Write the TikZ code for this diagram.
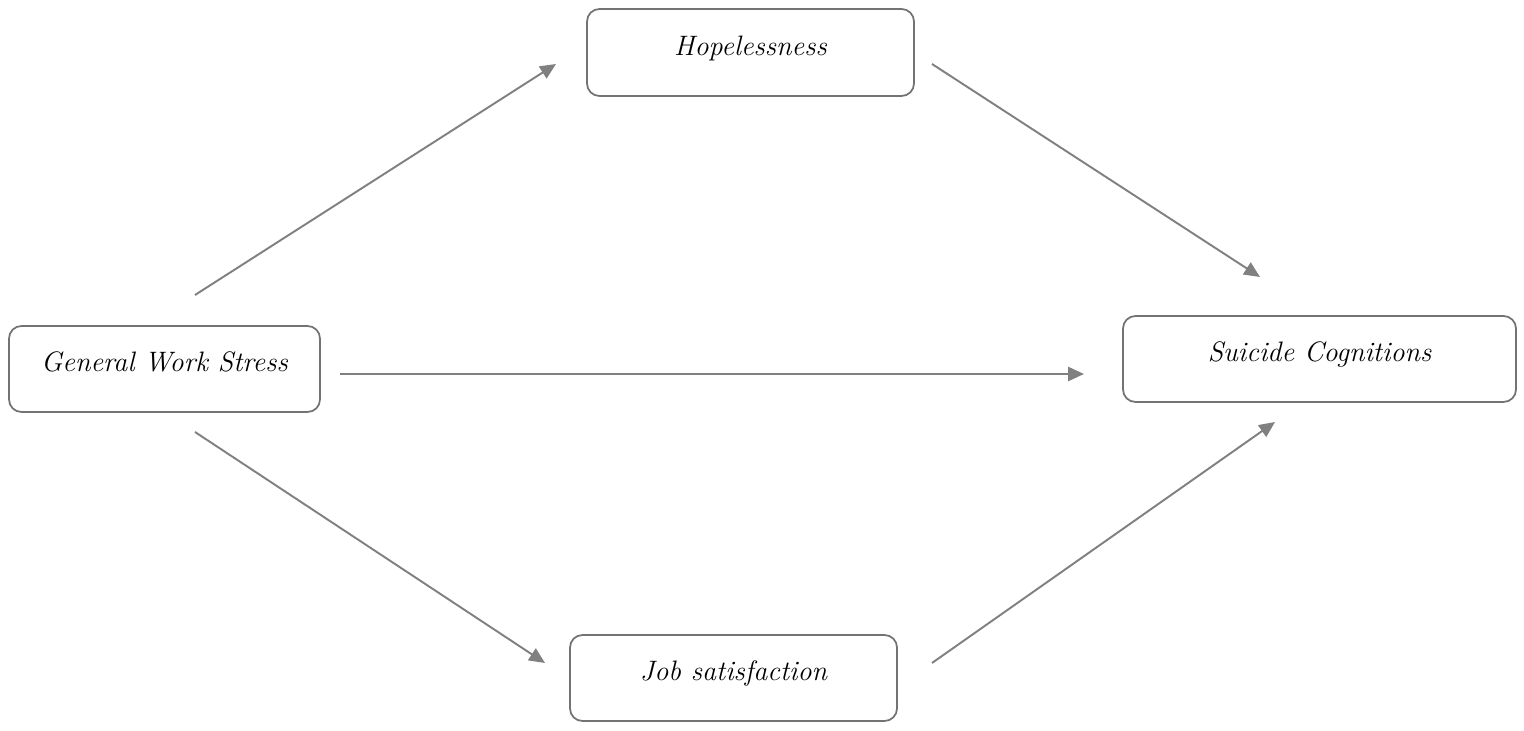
\documentclass[tikz,border=0pt]{standalone}
\usetikzlibrary{arrows,arrows.meta}

\begin{document}
\begin{tikzpicture}[->,>={Triangle[length=9pt,width=8pt]},line width=1.1pt,
  box node/.style={rectangle,rounded corners=0.25cm,draw=gray!90!black,fill=white,
    line width=1pt,text=black,inner sep=0pt,text height=0.45cm,text depth=0.33cm,
    font=\fontsize{16}{19}\selectfont\itshape}]
  \useasboundingbox (0,0) rectangle (30.48,-14.62);
  \node[box node, minimum width=6.54cm, minimum height=1.74cm] (hope) at (15.01,-1.05) {Hopelessness};
  \node[box node, minimum width=6.22cm, minimum height=1.72cm] (gws) at (3.29,-7.38) {General Work Stress};
  \node[box node, minimum width=7.86cm, minimum height=1.72cm] (sc) at (26.39,-7.18) {Suicide Cognitions};
  \node[box node, minimum width=6.54cm, minimum height=1.72cm] (job) at (14.67,-13.56) {Job satisfaction};
  % arrow ends
  \coordinate (gws-up) at (3.90,-5.90);
  \coordinate (hope-in) at (11.12,-1.28);
  \coordinate (hope-out) at (18.64,-1.28);
  \coordinate (sc-in1) at (25.20,-5.54);
  \coordinate (gws-mid) at (6.80,-7.48);
  \coordinate (sc-in2) at (21.68,-7.48);
  \coordinate (gws-down) at (3.90,-8.64);
  \coordinate (job-in) at (10.90,-13.26);
  \coordinate (job-out) at (18.64,-13.26);
  \coordinate (sc-in3) at (25.50,-8.44);
  \path[every edge/.style={draw=gray,->}]
     (gws-up) edge (hope-in)
     (hope-out) edge (sc-in1)
     (gws-mid) edge (sc-in2)
     (gws-down) edge (job-in)
     (job-out) edge (sc-in3);
\end{tikzpicture}
\end{document}
